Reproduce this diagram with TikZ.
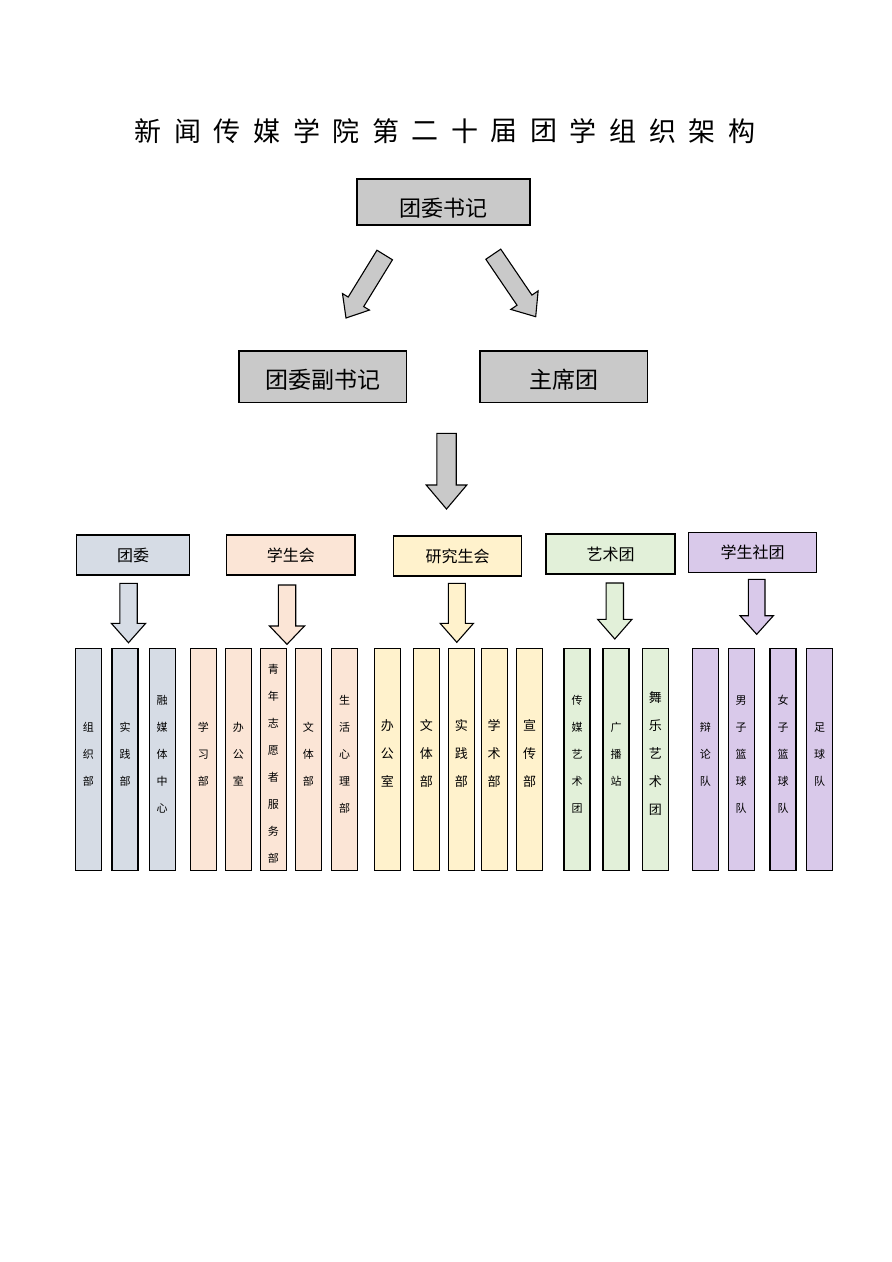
\documentclass[tikz,border=0pt]{standalone}
\usepackage{fontspec}
\setmainfont{Noto Sans CJK SC}
\usepackage{tikz}
\usetikzlibrary{calc}
\definecolor{boxgray}{HTML}{C9C9C9}
\definecolor{twblue}{HTML}{D6DCE5}
\definecolor{xshorange}{HTML}{FBE5D6}
\definecolor{yjsgold}{HTML}{FFF2CC}
\definecolor{ystgreen}{HTML}{E2F0D9}
\definecolor{sttpurple}{HTML}{D9C9EA}
\tikzstyle{topbox} = [draw, line width=1.2pt, fill=boxgray, inner sep=0pt]
\tikzstyle{groupbox} = [draw, line width=1.2pt, inner sep=0pt, minimum height=40pt, font=\fontsize{16}{18}\selectfont]
\tikzstyle{deptbox} = [draw, line width=1.1pt, inner sep=0pt, minimum width=26pt, minimum height=221.7pt, align=center, text depth=11pt, font=\fontsize{11}{27}\selectfont]
\tikzstyle{bigdept} = [deptbox, text depth=13pt, font=\fontsize{13}{28}\selectfont]
% fat arrow: colour, from, to, half shaft, half head, head length
\newcommand{\blockarrow}[6]{%
  \coordinate (neck) at ($(#3)!#6!(#2)$);
  \draw[line width=1.1pt, fill=#1]
    ($(#2)!#4!90:(#3)$) -- ($(neck)!#4!90:(#3)$) -- ($(neck)!#5!90:(#3)$) -- (#3)
    -- ($(neck)!#5!-90:(#3)$) -- ($(neck)!#4!-90:(#3)$) -- ($(#2)!#4!-90:(#3)$) -- cycle;
}

\begin{document}
\begin{tikzpicture}[x=1pt, y=-1pt]
  \useasboundingbox (0,0) rectangle (892,1262);

  % TITLE
  \foreach \ch [count=\i from 0] in {新,闻,传,媒,学,院,第,二,十,届,团,学,组,织,架,构}
    \node[font=\fontsize{27}{30}\selectfont] (title-\i) at ({148.3+39.56*\i},131) {\ch};

  % TOP LEVEL
  \node[topbox, minimum width=173pt, minimum height=46pt, font=\fontsize{22}{24}\selectfont] (boss) at (443.5,202) {\raisebox{-6pt}[\height][\depth]{团委书记}};
  \node[topbox, minimum width=167.7pt, minimum height=51.3pt, font=\fontsize{23}{25}\selectfont] (deputy) at (322.8,376.7) {\raisebox{-3pt}[\height][\depth]{团委副书记}};
  \node[topbox, minimum width=167.7pt, minimum height=51.3pt, font=\fontsize{23}{25}\selectfont] (presidium) at (563.8,376.7) {\raisebox{-3pt}[\height][\depth]{主席团}};

  % left arrow
  \coordinate (boss-l) at (384.7,255);
  \coordinate (deputy-t) at (346,318);
  \blockarrow{boxgray}{boss-l}{deputy-t}{9.1pt}{15.8pt}{19pt}
  % right arrow
  \coordinate (boss-r) at (493.3,254.2);
  \coordinate (presidium-t) at (535.7,316.7);
  \blockarrow{boxgray}{boss-r}{presidium-t}{9pt}{16.5pt}{20pt}
  % down arrow
  \coordinate (mid-s) at (446.5,433.3);
  \coordinate (mid-e) at (446.5,509);
  \blockarrow{boxgray}{mid-s}{mid-e}{9.7pt}{20.3pt}{24pt}

  % GROUPS
  \node[groupbox, fill=twblue, minimum width=112.6pt] (tw) at (133,555) {团委};
  \node[groupbox, fill=xshorange, minimum width=128.3pt] (xsh) at (290.8,555) {学生会};
  \node[groupbox, fill=yjsgold, minimum width=128.3pt] (yjs) at (457.5,556) {研究生会};
  \node[groupbox, fill=ystgreen, minimum width=129pt] (yst) at (610.5,554) {艺术团};
  \node[groupbox, fill=sttpurple, minimum width=128.3pt] (stt) at (752.5,552.7) {学生社团};

  % small arrows
  \coordinate (tw-s) at (128.5,583.3);   \coordinate (tw-e) at (128.5,642.7);
  \blockarrow{twblue}{tw-s}{tw-e}{8.7pt}{17.2pt}{19.4pt}
  \coordinate (xsh-s) at (287,585);      \coordinate (xsh-e) at (287,644.3);
  \blockarrow{xshorange}{xsh-s}{xsh-e}{8.7pt}{17.5pt}{18.3pt}
  \coordinate (yjs-s) at (456.8,583.3);  \coordinate (yjs-e) at (456.8,642.3);
  \blockarrow{yjsgold}{yjs-s}{yjs-e}{8.5pt}{16.7pt}{19pt}
  \coordinate (yst-s) at (614.8,583);    \coordinate (yst-e) at (614.8,639);
  \blockarrow{ystgreen}{yst-s}{yst-e}{8.7pt}{17.2pt}{19.7pt}
  \coordinate (stt-s) at (756.7,579.3);  \coordinate (stt-e) at (756.7,634.3);
  \blockarrow{sttpurple}{stt-s}{stt-e}{8.3pt}{16.7pt}{18.6pt}

  % DEPARTMENTS
  \foreach \x/\txt [count=\i] in {88.3/{组\\织\\部}, 125/{实\\践\\部}, 162.2/{融\\媒\\体\\中\\心}}
    \node[deptbox, fill=twblue] (tw-\i) at (\x,759.2) {\txt};
  \foreach \x/\txt [count=\i] in {203.3/{学\\习\\部}, 238.3/{办\\公\\室}, 308.3/{文\\体\\部}, 344.7/{生\\活\\心\\理\\部}}
    \node[deptbox, fill=xshorange] (xsh-\i) at (\x,759.2) {\txt};
  % long column, text sits a little low
  \node[deptbox, fill=xshorange] (xsh-volunteer) at (273.3,759.2) {};
  \node[align=center, inner sep=0pt, font=\fontsize{11}{27}\selectfont] (xsh-volunteer-text) at (273.3,764) {青\\年\\志\\愿\\者\\服\\务\\部};
  \foreach \x/\txt [count=\i] in {387.3/{办\\公\\室}, 426.3/{文\\体\\部}, 461.3/{实\\践\\部}, 494.2/{学\\术\\部}, 529.7/{宣\\传\\部}}
    \node[bigdept, fill=yjsgold] (yjs-\i) at (\x,759.2) {\txt};
  \node[deptbox, fill=ystgreen] (yst-1) at (577,759.2) {传\\媒\\艺\\术\\团};
  \node[deptbox, fill=ystgreen] (yst-2) at (616,759.2) {广\\播\\站};
  \node[bigdept, fill=ystgreen] (yst-3) at (655.3,759.2) {舞\\乐\\艺\\术\\团};
  \foreach \x/\txt [count=\i] in {705.3/{辩\\论\\队}, 741.2/{男\\子\\篮\\球\\队}, 783/{女\\子\\篮\\球\\队}, 819.7/{足\\球\\队}}
    \node[deptbox, fill=sttpurple] (stt-\i) at (\x,759.2) {\txt};
\end{tikzpicture}
\end{document}
